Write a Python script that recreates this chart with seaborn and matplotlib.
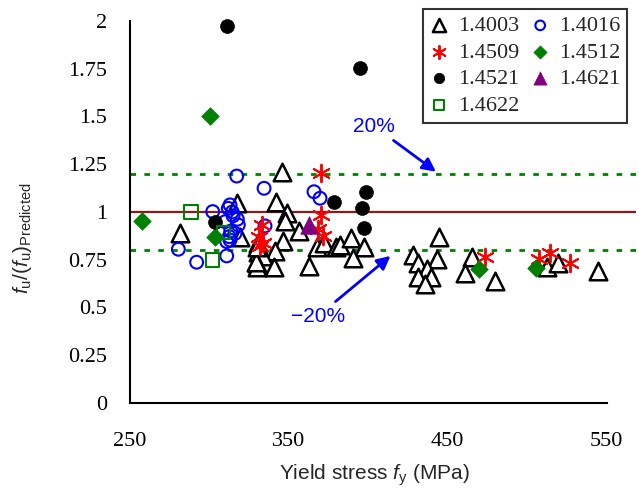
import matplotlib
matplotlib.use("Agg")
import matplotlib.pyplot as plt
import seaborn as sns
import pandas as pd

# Yield stress (MPa) and ratio f_u / (f_u)_Predicted for each stainless steel grade
x_14003 = [281.6, 317.3, 319.4, 345.6, 342.0, 349.1, 347.7, 356.7, 346.6, 330.9,
           341.4, 330.9, 334.0, 340.8, 330.3, 330.3, 329.4, 363.0, 367.6, 372.2,
           379.7, 382.3, 389.2, 397.5, 390.6, 444.5, 428.0, 431.5, 443.0, 436.8,
           431.5, 439.3, 435.7, 465.5, 460.9, 479.8, 512.2, 519.6, 544.7, 330.3]
y_14003 = [0.888, 1.045, 0.871, 1.211, 1.054, 0.993, 0.955, 0.902, 0.850, 0.836,
           0.797, 0.792, 0.770, 0.714, 0.731, 0.714, 0.740, 0.717, 0.818, 0.836,
           0.818, 0.827, 0.862, 0.818, 0.757, 0.870, 0.773, 0.731, 0.755, 0.700,
           0.658, 0.658, 0.623, 0.765, 0.680, 0.640, 0.710, 0.735, 0.693, 0.818]

x_14016 = [280.6, 292.1, 302.2, 311.0, 317.3, 313.1, 312.0, 317.7, 318.3, 310.0,
           312.6, 313.1, 316.2, 334.5, 365.9, 369.7, 335.1, 311.0, 313.5, 315.0,
           314.5]
y_14016 = [0.805, 0.737, 1.002, 0.770, 1.188, 1.037, 1.019, 0.962, 0.932, 0.949,
           0.871, 0.853, 0.888, 1.124, 1.106, 1.072, 0.927, 0.845, 0.900, 0.980,
           1.000]

x_14509 = [370.1, 370.1, 368.6, 371.4, 333.0, 331.0, 334.0, 332.0, 473.5, 507.6,
           514.3, 526.9]
y_14509 = [1.203, 0.984, 0.911, 0.874, 0.930, 0.870, 0.840, 0.820, 0.766, 0.752,
           0.784, 0.735]

x_14512 = [300.5, 257.7, 303.8, 469.5, 505.5]
y_14512 = [1.500, 0.951, 0.871, 0.700, 0.708]

x_14521 = [311.0, 394.8, 303.5, 378.5, 398.6, 396.1, 397.4]
y_14521 = [1.974, 1.752, 0.946, 1.051, 1.106, 1.019, 0.915]

x_14621 = [362.8]
y_14621 = [0.932]

x_14622 = [288.4, 302.2, 308.9]
y_14622 = [1.000, 0.749, 0.892]

grades = ["1.4003", "1.4016", "1.4509", "1.4512", "1.4521", "1.4621", "1.4622"]
xs = [x_14003, x_14016, x_14509, x_14512, x_14521, x_14621, x_14622]
ys = [y_14003, y_14016, y_14509, y_14512, y_14521, y_14621, y_14622]

x_ticks = [250, 350, 450, 550]
y_ticks = [0, 0.25, 0.5, 0.75, 1, 1.25, 1.5, 1.75, 2]
y_tick_labels = ["0", "0.25", "0.5", "0.75", "1", "1.25", "1.5", "1.75", "2"]

sns.set_style("white")
plt.rcParams["font.family"] = ["Liberation Serif", "DejaVu Serif"]
plt.rcParams["mathtext.fontset"] = "custom"
plt.rcParams["mathtext.rm"] = "Liberation Sans"
plt.rcParams["mathtext.it"] = "Liberation Sans:italic"
plt.rcParams["mathtext.default"] = "it"

fig = plt.figure(figsize=(6.39, 4.92), dpi=100)
ax = fig.add_axes([129.7 / 639, 89 / 492, 506.3 / 639, 393.5 / 492])

styles = {
    "1.4003": dict(marker="^", s=160, facecolor="white", edgecolor="black", color="black", linewidth=1.8),
    "1.4016": dict(marker="o", s=85, facecolor="none", edgecolor="blue", color="blue", linewidth=1.5),
    "1.4509": dict(marker=(6, 2, 0), s=160, color="red", linewidth=1.4),
    "1.4512": dict(marker="D", s=80, color="green", edgecolor="green", linewidth=0.5),
    "1.4521": dict(marker="o", s=100, color="black", edgecolor="black", linewidth=0.5),
    "1.4621": dict(marker="^", s=160, color="purple", edgecolor="purple", linewidth=0.5),
    "1.4622": dict(marker="s", s=95, facecolor="none", edgecolor="green", color="green", linewidth=1.5),
}

# Reference lines: mean ratio and +/-20 % bounds
ax.axhline(1.0, color="#8B1A1A", lw=1.6, zorder=1)
ax.axhline(1.2, color="green", lw=2, ls=(0, (2, 3)), zorder=1)
ax.axhline(0.8, color="green", lw=2, ls=(0, (2, 3)), zorder=1)

for g, xv, yv in zip(grades, xs, ys):
    df = pd.DataFrame({"fy": xv, "ratio": yv})
    sns.scatterplot(data=df, x="fy", y="ratio", ax=ax, label=g, zorder=3, **styles[g])

h, l = ax.get_legend_handles_labels()
hmap = dict(zip(l, h))
order = ["1.4003", "1.4509", "1.4521", "1.4622", "1.4016", "1.4512", "1.4621"]
leg = ax.legend([hmap[k] for k in order], order, ncol=2, loc="upper right",
                bbox_to_anchor=(627 / 639, 483 / 492), bbox_transform=fig.transFigure,
                borderaxespad=0, fontsize=16, frameon=True, fancybox=False,
                edgecolor="black", handletextpad=0.45, columnspacing=0.55,
                labelspacing=0.27, markerscale=0.75, handlelength=0.8,
                borderpad=0.3)
leg.get_frame().set_linewidth(1.5)

ax.annotate("20%", xy=(442.6, 1.211), xytext=(403.6, 1.45), color="blue",
            fontsize=15, ha="center", va="center", family="Liberation Sans",
            arrowprops=dict(arrowstyle="-|>", color="blue", lw=2, mutation_scale=20,
                            shrinkA=2, shrinkB=0))
ax.annotate("\u221220%", xy=(414, 0.77), xytext=(368.4, 0.455), color="blue",
            fontsize=15, ha="center", va="center", family="Liberation Sans",
            arrowprops=dict(arrowstyle="-|>", color="blue", lw=2, mutation_scale=20,
                            shrinkA=2, shrinkB=0))

ax.set_xlim(250, 568.4)
ax.set_ylim(0, 2.06)
ax.set_xticks(x_ticks)
ax.set_yticks(y_ticks)
ax.set_yticklabels(y_tick_labels)
ax.tick_params(axis="both", direction="in", length=6.5, width=1.3, labelsize=16,
               colors="black")
ax.tick_params(axis="x", pad=21)
ax.tick_params(axis="y", pad=16)
for side in ["top", "right"]:
    ax.spines[side].set_visible(False)
ax.spines["left"].set_bounds(0, 2)
ax.spines["bottom"].set_bounds(250, 550)
for side in ["left", "bottom"]:
    ax.spines[side].set_linewidth(1.5)
    ax.spines[side].set_color("black")

ax.set_xlabel(r"Yield stress $f_\mathrm{y}$ (MPa)", family="Liberation Sans", fontsize=15)
ax.set_ylabel(r"$f_\mathrm{u}/(f_\mathrm{u})_\mathrm{Predicted}$", family="Liberation Sans",
              fontsize=15)
ax.xaxis.set_label_coords(0.4826, -0.15)
ax.yaxis.set_label_coords(-0.19, 0.42)

fig.savefig("out.png", dpi=100)
